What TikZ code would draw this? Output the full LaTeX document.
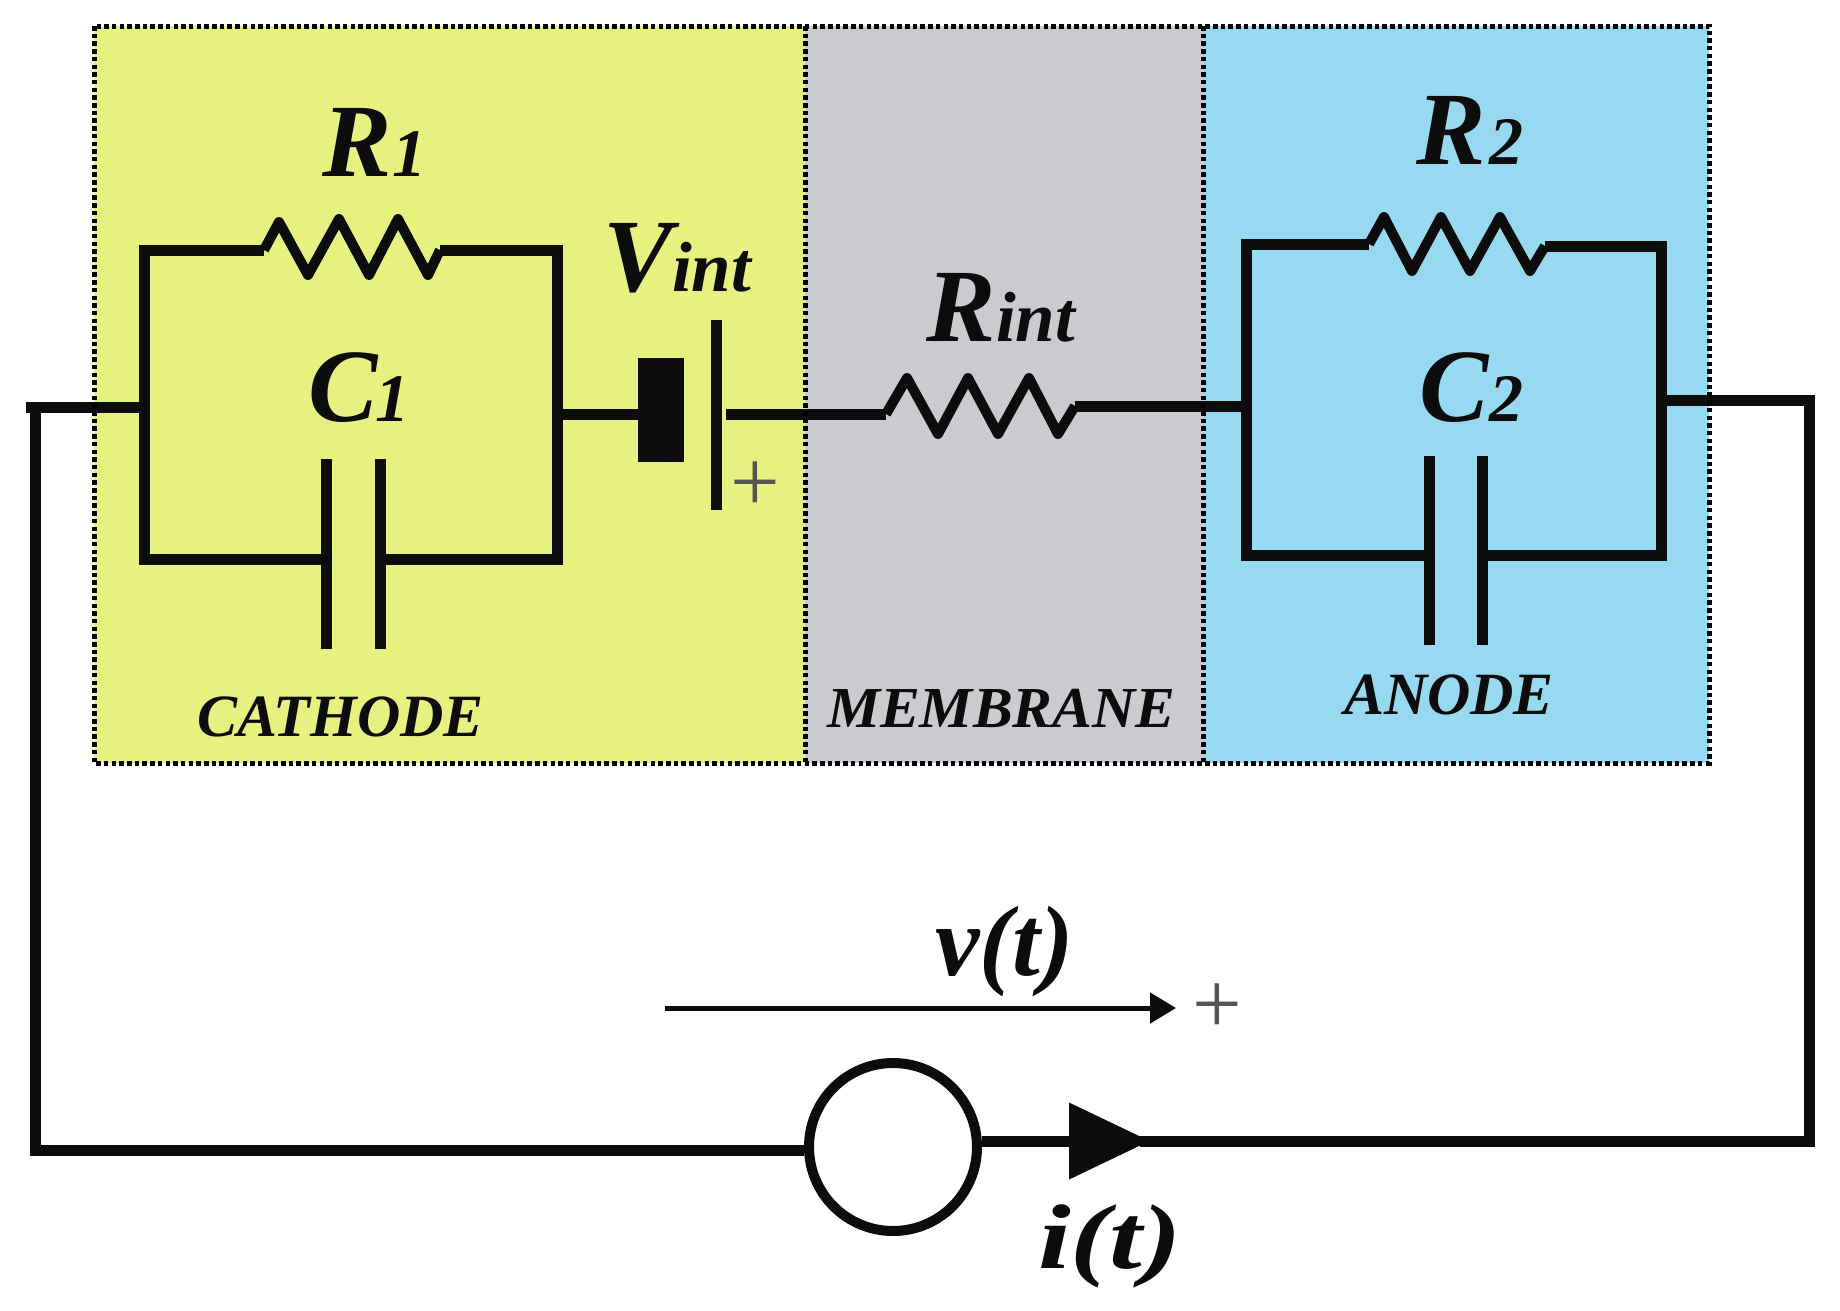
\documentclass[tikz,border=0pt]{standalone}
\usepackage{fontspec}
\setmainfont{Liberation Serif}
\usetikzlibrary{arrows.meta}
\definecolor{cathodeY}{HTML}{E6F17F}
\definecolor{membraneG}{HTML}{C9CBCE}
\definecolor{anodeB}{HTML}{98D9F2}
\definecolor{ink}{HTML}{0C0C0C}
\newcommand{\fsz}[1]{\fontsize{#1}{#1}\selectfont}
\newcommand{\lab}[2]{{\fsz{#1}\bfseries\itshape #2}}
\tikzset{
  wire/.style={draw=ink,line width=11pt,line cap=butt,line join=miter},
  coil/.style={draw=ink,line width=10pt,line cap=butt,line join=round},
  plate/.style={draw=ink,line width=11pt},
  frameline/.style={draw=black,line width=5pt,dash pattern=on 4.5pt off 3.2pt},
  txt/.style={anchor=base west,inner sep=0pt,outer sep=0pt,text=ink},
  plus/.style={inner sep=0pt,outer sep=0pt,text=ink!70,font=\fsz{88}},
}
\begin{document}
\begin{tikzpicture}[x=1pt,y=-1pt]
\useasboundingbox (0,0) rectangle (1840,1310);
\fill[white] (0,0) rectangle (1840,1310);
% zones
\fill[cathodeY] (94,26) rectangle (805,763);
\fill[membraneG] (805,26) rectangle (1203,763);
\fill[anodeB] (1203,26) rectangle (1709,763);
% coordinates
\coordinate (inL) at (26,407);
\coordinate (tl1) at (144,250);
\coordinate (tr1) at (557,250);
\coordinate (bl1) at (144,559);
\coordinate (br1) at (557,559);
\coordinate (ml1) at (144,407);
\coordinate (mr1) at (557,414);
\coordinate (r1a) at (264,250);
\coordinate (r1b) at (440,250);
\coordinate (c1a) at (326,559);
\coordinate (c1b) at (380,559);
\coordinate (batA) at (716,414);
\coordinate (riA) at (886,414);
\coordinate (riB) at (1075,406);
\coordinate (tl2) at (1246,244);
\coordinate (tr2) at (1661,246);
\coordinate (bl2) at (1246,555);
\coordinate (br2) at (1661,555);
\coordinate (ml2) at (1246,406);
\coordinate (mr2) at (1661,400);
\coordinate (r2a) at (1369,244);
\coordinate (r2b) at (1545,246);
\coordinate (c2a) at (1429,555);
\coordinate (c2b) at (1482,555);
\coordinate (outR) at (1815,400);
\coordinate (cornR) at (1809,1141);
\coordinate (cornL) at (35,1150);
\coordinate (tipI) at (1150,1141);
\coordinate (vS) at (665,1008);
\coordinate (vE) at (1176,1008);
% cathode
\draw[wire] (inL) -- (ml1);
\draw[wire] (r1a) -- (tl1) -- (bl1) -- (c1a);
\draw[wire] (r1b) -- (tr1) -- (br1) -- (c1b);
\draw[coil] (r1a) -- (279,222) -- (308,275) -- (339,219) -- (369,275) -- (398,219) -- (428,275) -- (r1b);
\draw[plate] (326,459) -- (326,649);
\draw[plate] (380,459) -- (380,649);
% battery
\node[fill=ink,inner sep=0pt,minimum width=46pt,minimum height=104pt] (bat) at (661,410) {};
\draw[wire] (mr1) -- (bat.west |- mr1);
\draw[plate] (716,320) -- (716,510);
\draw[wire] (726,414) -- (riA);
% Rint
\draw[coil] (riA) -- (907,378) -- (938,434) -- (968,378) -- (998,434) -- (1029,378) -- (1058,434) -- (riB);
\draw[wire] (riB) -- (ml2);
% anode
\draw[wire] (r2a) -- (tl2) -- (bl2) -- (c2a);
\draw[wire] (r2b) -- (tr2) -- (br2) -- (c2b);
\draw[coil] (r2a) -- (1384,217) -- (1412,271) -- (1441,217) -- (1470,271) -- (1500,217) -- (1530,271) -- (r2b);
\draw[plate] (1429,456) -- (1429,645);
\draw[plate] (1482,456) -- (1482,645);
\draw[wire] (mr2) -- (outR);
% frame
\draw[frameline] (94,26) rectangle (1709,763);
\draw[frameline] (805,26) -- (805,763);
\draw[frameline] (1203,26) -- (1203,763);
% outer loop
\node[circle,draw=ink,fill=white,line width=10pt,inner sep=0pt,minimum size=168pt] (src) at (893,1147) {};
\draw[wire] (35,402) -- (cornL) -- (src.west |- cornL);
\draw[wire,-{Triangle[length=81pt,width=74pt]}] (src.east |- tipI) -- (tipI);
\draw[wire] ([xshift=-10pt]tipI) -- (cornR) -- (1809,395);
\draw[draw=ink,line width=5pt,-{Triangle[length=26pt,width=30pt]}] (vS) -- (vE);
% labels
\node[txt] (lR1) at (322,176) {\lab{104}{R}};
\node[txt] (lR1s) at (392,176) {\lab{68}{1}};
\node[txt] (lC1) at (308,421) {\lab{104}{C}};
\node[txt] (lC1s) at (375,421) {\lab{68}{1}};
\node[txt] (lV) at (603,291) {\lab{104}{V}};
\node[txt] (lVs) at (672,291) {\lab{71}{int}};
\node[txt] (lRi) at (926,341) {\lab{104}{R}};
\node[txt] (lRis) at (996,341) {\lab{71}{int}};
\node[txt] (lR2) at (1416,164) {\lab{104}{R}};
\node[txt] (lR2s) at (1489,164) {\lab{68}{2}};
\node[txt] (lC2) at (1419,421) {\lab{104}{C}};
\node[txt] (lC2s) at (1489,421) {\lab{68}{2}};
\node[txt] (lcat) at (197,736) {\lab{60}{CATHODE}};
\node[txt] (lmem) at (827,727) {\scalebox{1.03}[1]{\lab{58}{MEMBRANE}}};
\node[txt] (lano) at (1344,714) {\lab{60}{ANODE}};
\node[txt] (lv) at (935,975) {\lab{100}{v(t)}};
\node[txt] (li) at (1038,1268) {\scalebox{1.28}[1]{\lab{92}{i(t)}}};
\node[plus] (p1) at (755,487) {+};
\node[plus] (p2) at (1217,1009) {+};
\end{tikzpicture}
\end{document}
